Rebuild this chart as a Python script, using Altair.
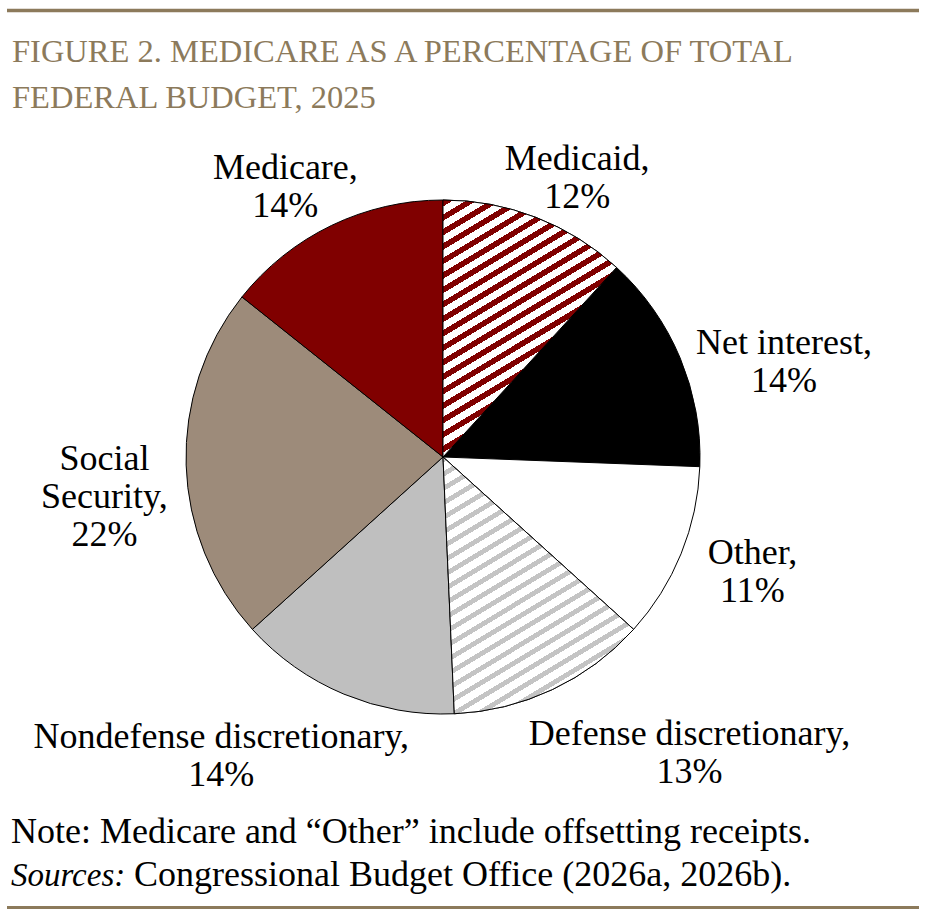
import math
import altair as alt
import pandas as pd

# ---------------- data ----------------
CATEGORIES = ["Medicaid", "Net interest", "Other", "Defense discretionary",
              "Nondefense discretionary", "Social Security", "Medicare"]
LABEL_NAMES = ["Medicaid", "Net interest", "Other", "Defense discretionary",
               "Nondefense discretionary", "Social\nSecurity", "Medicare"]
SHARES = [11.8, 13.8, 11.1, 12.6, 14.0, 22.4, 14.3]

TITLE_LINES = ["Figure 2. Medicare as a Percentage of Total", "Federal Budget, 2025"]
NOTE_TEXT = "Note: Medicare and \u201cOther\u201d include offsetting receipts."
SOURCE_LEAD = "Sources:"
SOURCE_TEXT = "Congressional Budget Office (2026a, 2026b)."

# ---------------- style / layout ----------------
W, H = 926, 917
CX, CY, R = 443, 457, 257
FONT = "Liberation Serif"
GOLD = "#8C7A5B"
FILL_COLORS = ["#FFFFFF", "#000000", "#FFFFFF", "#FFFFFF", "#BFBFBF", "#9D8B7A", "#800000"]
LABEL_SHIFT_DEG = [4.4, 7.1, -1.8, -14.6, 13.9, -5.0, -4.5]
LABEL_RADIUS = [310, 354, 330, 385, 372, 341, 313]
LABEL_SIZE, LABEL_LH = 36, 38

df = pd.DataFrame({
    "idx": list(range(len(CATEGORIES))),
    "cat": CATEGORIES,
    "lname": LABEL_NAMES,
    "value": SHARES,
    "shift": LABEL_SHIFT_DEG,
    "lr": LABEL_RADIUS,
})


def wedge_bbox(a0, a1, r):
    xs = [0.0, r * math.sin(a0), r * math.sin(a1)]
    ys = [0.0, -r * math.cos(a0), -r * math.cos(a1)]
    for k in range(5):
        c = k * math.pi / 2
        if a0 < c < a1:
            xs.append(r * math.sin(c))
            ys.append(-r * math.cos(c))
    return max(xs) - min(xs), max(ys) - min(ys)


def hatch_gradient(i, color, stripe, period=12.4, angle_deg=31.0):
    total = sum(SHARES)
    a0 = sum(SHARES[:i]) / total * 2 * math.pi
    a1 = a0 + SHARES[i] / total * 2 * math.pi
    w, h = wedge_bbox(a0, a1, R)
    s, c = math.sin(math.radians(angle_deg)), math.cos(math.radians(angle_deg))
    d = w * s + h * c
    k = d / (w * w * s * s + h * h * c * c)
    stops = []
    pos = 0.0
    while pos < d:
        o0 = round(pos / d, 5)
        o1 = round(min((pos + stripe) / d, 1.0), 5)
        o2 = round(min((pos + period) / d, 1.0), 5)
        stops += [
            {"offset": o0, "color": color},
            {"offset": o1, "color": color},
            {"offset": o1, "color": "#FFFFFF"},
            {"offset": o2, "color": "#FFFFFF"},
        ]
        pos += period
    return {"gradient": "linear", "x1": 0, "y1": 0,
            "x2": round(w * s * k, 5), "y2": round(h * c * k, 5), "stops": stops}


one = pd.DataFrame({"k": [0]})

# rules
top_rule = alt.Chart(one).mark_rule(color=GOLD, strokeWidth=3.5).encode(
    x=alt.value(7), x2=alt.value(919), y=alt.value(10.5))
bottom_rule = alt.Chart(one).mark_rule(color=GOLD, strokeWidth=3).encode(
    x=alt.value(7), x2=alt.value(919), y=alt.value(907.5))

# title
title1 = alt.Chart(pd.DataFrame({"t": [TITLE_LINES[0].upper()]})).mark_text(
    font=FONT, fontSize=32.5, color=GOLD, align="left", baseline="alphabetic"
).encode(x=alt.value(12), y=alt.value(62), text="t:N")
title2 = alt.Chart(pd.DataFrame({"t": [TITLE_LINES[1].upper()]})).mark_text(
    font=FONT, fontSize=32.5, color=GOLD, align="left", baseline="alphabetic"
).encode(x=alt.value(12), y=alt.value(108), text="t:N")

# pie
base = alt.Chart(df)
theta = alt.Theta("value:Q", stack=True)
order = alt.Order("idx:Q")

pie = base.mark_arc(outerRadius=R, stroke="#000000", strokeWidth=1).encode(
    theta=theta, order=order,
    fill=alt.Fill("cat:N", scale=alt.Scale(domain=CATEGORIES, range=FILL_COLORS), legend=None),
    x=alt.value(CX), y=alt.value(CY),
)

hatch_medicaid = base.mark_arc(
    outerRadius=R, stroke="#000000", strokeWidth=1,
    fill=hatch_gradient(0, "#800000", 5.6),
).encode(
    theta=theta, order=order,
    opacity=alt.when(alt.datum.cat == "Medicaid").then(alt.value(1)).otherwise(alt.value(0)),
    x=alt.value(CX), y=alt.value(CY),
)

hatch_defense = base.mark_arc(
    outerRadius=R, stroke="#000000", strokeWidth=1,
    fill=hatch_gradient(3, "#C4C4C4", 4.8),
).encode(
    theta=theta, order=order,
    opacity=alt.when(alt.datum.cat == "Defense discretionary").then(alt.value(1)).otherwise(alt.value(0)),
    x=alt.value(CX), y=alt.value(CY),
)

labels = base.transform_joinaggregate(
    total="sum(value)"
).transform_window(
    cum="sum(value)", sort=[alt.SortField("idx")]
).transform_calculate(
    ang="(datum.cum - datum.value / 2) / datum.total * 2 * PI + datum.shift * PI / 180",
    label="datum.lname + ',\\n' + format(datum.value, '.0f') + '%'",
).transform_calculate(
    nlines="length(split(datum.label, '\\n'))",
).transform_calculate(
    lx=f"{CX} + datum.lr * sin(datum.ang)",
    ly=f"{CY} - datum.lr * cos(datum.ang) - (datum.nlines - 1) * {LABEL_LH} / 2",
).mark_text(
    font=FONT, fontSize=LABEL_SIZE, lineHeight=LABEL_LH, lineBreak="\n",
    align="center", baseline="middle", color="#000000",
).encode(
    x=alt.X("lx:Q", scale=None, axis=None),
    y=alt.Y("ly:Q", scale=None, axis=None),
    text="label:N",
)

# notes
note = alt.Chart(pd.DataFrame({"t": [NOTE_TEXT]})).mark_text(
    font=FONT, fontSize=36, color="#000000", align="left", baseline="alphabetic"
).encode(x=alt.value(11), y=alt.value(843), text="t:N")
src_lead = alt.Chart(pd.DataFrame({"t": [SOURCE_LEAD]})).mark_text(
    font=FONT, fontSize=33, fontStyle="italic", color="#000000", align="left", baseline="alphabetic"
).encode(x=alt.value(11), y=alt.value(886), text="t:N")
src = alt.Chart(pd.DataFrame({"t": [SOURCE_TEXT]})).mark_text(
    font=FONT, fontSize=36, color="#000000", align="left", baseline="alphabetic"
).encode(x=alt.value(134), y=alt.value(886), text="t:N")

chart = alt.layer(
    top_rule, bottom_rule, title1, title2, pie, hatch_medicaid, hatch_defense,
    labels, note, src_lead, src,
).properties(
    width=W, height=H, padding=0, autosize="none", background="#FFFFFF"
).configure_view(stroke=None)

chart.save("out.html", embed_options={"renderer": "svg", "actions": False})
